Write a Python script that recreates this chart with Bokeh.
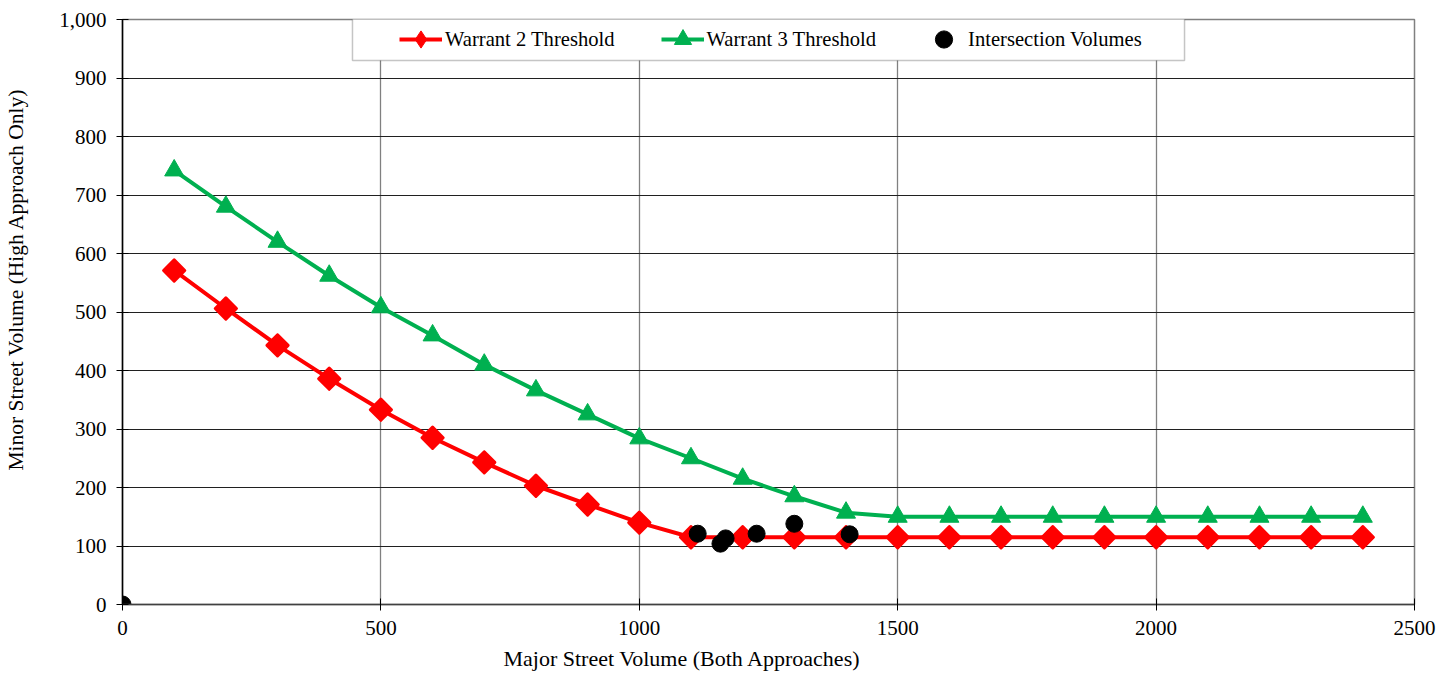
import math
from bokeh.plotting import figure
from bokeh.embed import file_html
from bokeh.resources import INLINE
from bokeh.models import (Range1d, NumeralTickFormatter, FixedTicker, Legend, LegendItem,
                          BoxAnnotation, Title)

major_volume = [100, 200, 300, 400, 500, 600, 700, 800, 900, 1000, 1100, 1200,
                1300, 1400, 1500, 1600, 1700, 1800, 1900, 2000, 2100, 2200, 2300, 2400]
warrant2 = [571, 506, 443, 386, 333, 285, 243, 203, 171, 140, 115, 115,
            115, 115, 115, 115, 115, 115, 115, 115, 115, 115, 115, 115]
warrant3 = [742, 680, 620, 562, 508, 460, 410, 366, 325, 284, 250, 215,
            185, 157, 150, 150, 150, 150, 150, 150, 150, 150, 150, 150]
int_major = [0, 1113, 1157, 1167, 1227, 1300, 1407]
int_minor = [0, 121, 104, 113, 121, 138, 120]

FONT = "Liberation Serif"
SHIFT = 32

p = figure(width=1440 + SHIFT, height=679, output_backend="svg", toolbar_location=None,
           x_range=Range1d(0, 2500), y_range=Range1d(0, 1000),
           min_border_left=122 + SHIFT, min_border_top=19, min_border_right=26, min_border_bottom=75)
p.styles = {"margin-left": f"-{SHIFT}px"}

p.outline_line_color = "#808080"
p.outline_line_width = 1.5

p.xaxis.ticker = FixedTicker(ticks=[0, 500, 1000, 1500, 2000, 2500])
p.yaxis.ticker = FixedTicker(ticks=list(range(0, 1001, 100)))
p.yaxis.formatter = NumeralTickFormatter(format="0,0")

for ax in (p.xaxis[0], p.yaxis[0]):
    ax.major_label_text_font = FONT
    ax.major_label_text_font_size = "21px"
    ax.major_label_text_color = "black"
    ax.minor_tick_line_color = None
    ax.major_tick_in = 6
    ax.major_tick_out = 6
    ax.axis_line_width = 1.5

p.xaxis.axis_line_color = "#404040"
p.yaxis.axis_line_color = "black"
p.xaxis.major_label_standoff = 10
p.yaxis.major_label_standoff = 10

p.xgrid.grid_line_color = "#808080"
p.xgrid.grid_line_width = 1.3
p.ygrid.grid_line_color = "#202020"
p.ygrid.grid_line_width = 1

# axis titles (offset from the frame centre as in the original)
xtitle = Title(text="Major Street Volume (Both Approaches)", align="left", offset=381,
               text_font=FONT, text_font_size="22px", text_font_style="normal",
               text_color="black", standoff=12)
ytitle = Title(text="Minor Street Volume (High Approach Only)", align="left", offset=134,
               text_font=FONT, text_font_size="21.5px", text_font_style="normal",
               text_color="black", standoff=58)
p.add_layout(xtitle, "below")
p.add_layout(ytitle, "left")

RED = "#ff0000"
GREEN = "#00b050"

l2 = p.line(major_volume, warrant2, line_color=RED, line_width=4)
# diamond glyph used for the legend key (hidden under the rotated squares)
d2 = p.scatter(major_volume, warrant2, marker="diamond", size=23, fill_color=RED, line_color=RED)
s2 = p.scatter(major_volume, warrant2, marker="square", angle=math.pi / 4, size=15,
               fill_color=RED, line_color=RED, line_width=3, line_join="round")
l3 = p.line(major_volume, warrant3, line_color=GREEN, line_width=4)
s3 = p.scatter(major_volume, warrant3, marker="triangle", size=19, fill_color=GREEN, line_color=GREEN)
si = p.scatter(int_major, int_minor, marker="circle", size=17, fill_color="black", line_color="black")

box = BoxAnnotation(left=445, right=2055, top=1002, bottom=930,
                    fill_color="white", fill_alpha=1, line_color="#404040", line_width=1.5,
                    level="overlay")
p.add_layout(box)

legend = Legend(items=[
    LegendItem(label="Warrant 2 Threshold", renderers=[l2, d2]),
    LegendItem(label="Warrant 3 Threshold", renderers=[l3, s3]),
    LegendItem(label="Intersection Volumes", renderers=[si]),
], orientation="horizontal", location=(277, 540))
legend.label_text_font = FONT
legend.label_text_font_size = "20.6px"
legend.label_text_color = "black"
legend.border_line_color = None
legend.background_fill_alpha = 0
legend.padding = 0
legend.margin = 0
legend.spacing = 46
legend.glyph_width = 43
legend.glyph_height = 50
legend.label_standoff = 3
legend.level = "overlay"
p.add_layout(legend, "center")

open("out.html", "w").write(file_html(p, INLINE))
